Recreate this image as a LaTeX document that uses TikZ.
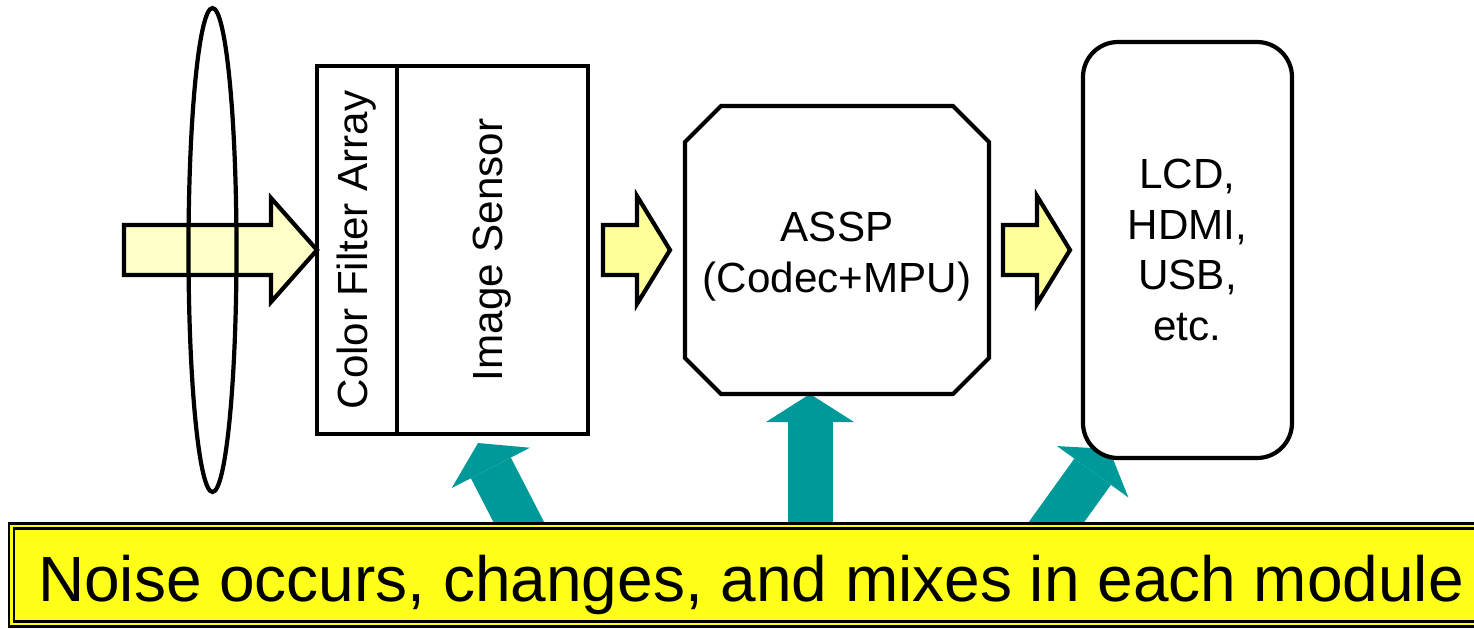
\documentclass[tikz,border=0pt]{standalone}
\usepackage{fontspec}
\setmainfont{Liberation Sans}
\usetikzlibrary{arrows.meta,positioning,calc,backgrounds}

\definecolor{noiseteal}{RGB}{0,153,153}
\definecolor{paleyellow}{RGB}{255,255,200}
\definecolor{lightyellow}{RGB}{255,255,153}
\definecolor{banneryellow}{RGB}{255,255,26}

\tikzset{
    block/.style={draw, very thick, fill=white, inner sep=0pt, outer sep=0pt, align=center, font=\fontsize{12}{14.4}\selectfont},
    flow/.style={draw, very thick, fill=lightyellow},
    noise/.style={draw=noiseteal, line width=0.45cm, -{Triangle[length=0.28cm, width=0.88cm, line width=0pt]}}
}

\begin{document}
\begin{tikzpicture}
    \useasboundingbox (0,0) rectangle (14.74,6.28);

    % Modules
    \node[block, minimum width=0.80cm, minimum height=3.68cm] (cfa) at (3.57,3.78) {\rotatebox{90}{Color Filter Array}};
    \node[block, right=0pt of cfa, minimum width=1.91cm, minimum height=3.68cm] (sensor) {\rotatebox{90}{Image Sensor}};
    \node[block, draw=none, minimum width=3.04cm, minimum height=2.88cm, text height=0.93cm, text depth=0.09cm] (assp) at (8.37,3.78) {ASSP\\(Codec+MPU)};
    \draw[very thick] ([xshift=0.36cm]assp.north west) -- ([xshift=-0.36cm]assp.north east) -- ([yshift=-0.36cm]assp.north east)
        -- ([yshift=0.36cm]assp.south east) -- ([xshift=-0.36cm]assp.south east) -- ([xshift=0.36cm]assp.south west)
        -- ([yshift=0.36cm]assp.south west) -- ([yshift=-0.36cm]assp.north west) -- cycle;
    \node[block, rounded corners=0.35cm, minimum width=2.09cm, minimum height=4.16cm] (lcd) at (11.875,3.78) {LCD,\\HDMI,\\USB,\\etc.};

    % Banner
    \node[draw, line width=0.6pt, double=banneryellow, double distance=0.8pt, fill=banneryellow,
          minimum width=14.79cm, minimum height=0.98cm, inner sep=0pt, text height=0.757cm, text depth=0.223cm,
          font=\fontsize{18.2}{21.8}\selectfont] (banner) at (7.51,0.53) {Noise occurs, changes, and mixes in each module};

    % Signal flow
    \draw[flow, fill=paleyellow] (cfa.west) -- ++(-0.46,0.52) -- ++(0,-0.27) -- ++(-1.47,0) -- ++(0,-0.50) -- ++(1.47,0) -- ++(0,-0.27) -- cycle;
    \draw[flow] ([xshift=-0.15cm]assp.west) -- ++(-0.33,0.54) -- ++(0,-0.29) -- ++(-0.34,0) -- ++(0,-0.50) -- ++(0.34,0) -- ++(0,-0.29) -- cycle;
    \draw[flow] ([xshift=-0.13cm]lcd.west) -- ++(-0.33,0.54) -- ++(0,-0.29) -- ++(-0.34,0) -- ++(0,-0.50) -- ++(0.34,0) -- ++(0,-0.29) -- cycle;

    % Lens
    \draw[very thick] (2.125,3.78) ellipse [x radius=0.24, y radius=2.42];

    % Noise
    \coordinate (src1) at (5.27,0.90);
    \coordinate (hit1) at (4.78,1.85);
    \coordinate (hit2) at ([xshift=-0.27cm]assp.south);
    \coordinate (src3) at (10.45,0.90);
    \coordinate (hit3) at (11.09,1.79);
    \begin{scope}[on background layer]
        \draw[noise] (src1) -- (hit1);
        \draw[noise] (hit2 |- banner.north) -- (hit2);
        \draw[noise] (src3) -- (hit3);
    \end{scope}
\end{tikzpicture}
\end{document}
